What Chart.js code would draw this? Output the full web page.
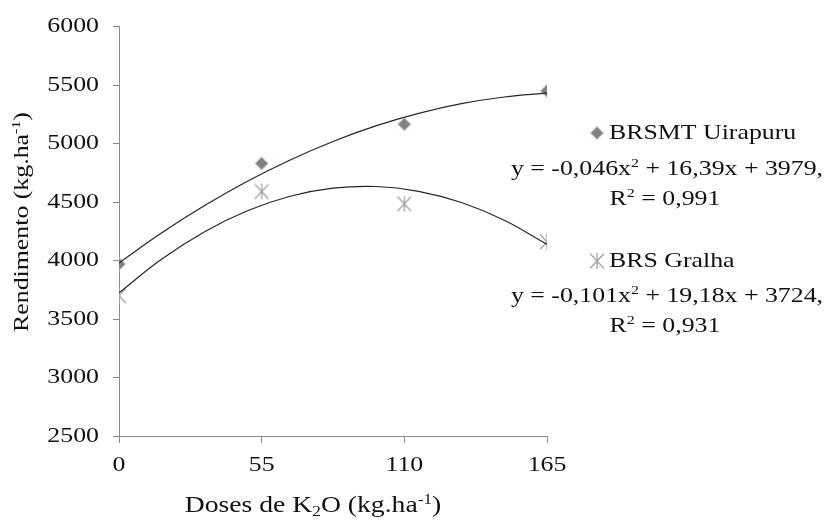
<!DOCTYPE html>
<html>
<head>
<meta charset="utf-8">
<script src="https://cdn.jsdelivr.net/npm/chart.js@4/dist/chart.umd.min.js"></script>
<style>
  html, body { margin: 0; padding: 0; background: #fff; }
  #wrap { width: 825px; height: 527px; }
</style>
</head>
<body>
<div id="wrap"><canvas id="c" width="825" height="527"></canvas></div>
<script>
// ---- data ----
const doses = [0, 55, 110, 165];
const uirapuru = [3970, 4830, 5165, 5450];
const gralha = [3700, 4590, 4485, 4160];
const trendX = [0, 16.5, 33, 49.5, 66, 82.5, 99, 115.5, 132, 148.5, 165];
const uirapuruTrend = [3979, 4237, 4470, 4678, 4860, 5018, 5151, 5258, 5341, 5398, 5431];
const gralhaTrend = [3724, 4013, 4247, 4426, 4550, 4619, 4633, 4592, 4496, 4345, 4139];
const yTicks = [2500, 3000, 3500, 4000, 4500, 5000, 5500, 6000];
const seriesNames = ['BRSMT Uirapuru', 'BRS Gralha'];
const equations = [
  [['y = -0,046x', 'n'], ['2', 'sup'], [' + 16,39x + 3979,', 'n']],
  [['y = -0,101x', 'n'], ['2', 'sup'], [' + 19,18x + 3724,', 'n']]
];
const r2Lines = [
  [['R', 'n'], ['2', 'sup'], [' = 0,991', 'n']],
  [['R', 'n'], ['2', 'sup'], [' = 0,931', 'n']]
];
const xTitle = [['Doses de K', 'n'], ['2', 'sub'], ['O (kg.ha', 'n'], ['-1', 'sup'], [')', 'n']];
const yTitle = [['Rendimento (kg.ha', 'n'], ['-1', 'sup'], [')', 'n']];

// ---- styling ----
const FONT_FAMILY = '"Liberation Serif", "Times New Roman", serif';
const FS = 21;
const SX = 1.23; // horizontal text stretch seen in the reference
const TEXT_COLOR = '#111';
const AXIS_COLOR = '#8a8a8a';
const DIAMOND_COLOR = '#808080';
const DIAMOND_GLOW = 'rgba(185,200,235,0.7)';
const STAR_COLOR = '#a3a3a3';
const LINE_COLOR = '#262626';

const canvas = document.getElementById('c');
const ctx = canvas.getContext('2d');
// horizontally stretched text, like the reference
const origFill = ctx.fillText.bind(ctx);
const origMeasure = ctx.measureText.bind(ctx);
ctx.fillText = function (text, x, y, maxWidth) {
  this.save();
  this.translate(x, y);
  this.scale(SX, 1);
  if (maxWidth !== undefined && maxWidth !== null) origFill(text, 0, 0, maxWidth / SX);
  else origFill(text, 0, 0);
  this.restore();
};
ctx.measureText = function (text) {
  const m = origMeasure(text);
  return {
    width: m.width * SX,
    actualBoundingBoxAscent: m.actualBoundingBoxAscent,
    actualBoundingBoxDescent: m.actualBoundingBoxDescent,
    actualBoundingBoxLeft: m.actualBoundingBoxLeft * SX,
    actualBoundingBoxRight: m.actualBoundingBoxRight * SX
  };
};

// star marker (X + vertical bar) like Excel
function makeStar(size, color) {
  const c = document.createElement('canvas');
  c.width = size + 4; c.height = size + 4;
  const g = c.getContext('2d');
  const h = size / 2, cx = c.width / 2, cy = c.height / 2;
  g.strokeStyle = color; g.lineWidth = 1.3; g.lineCap = 'butt';
  g.beginPath();
  g.moveTo(cx - h * 0.85, cy - h * 0.9); g.lineTo(cx + h * 0.85, cy + h * 0.9);
  g.moveTo(cx + h * 0.85, cy - h * 0.9); g.lineTo(cx - h * 0.85, cy + h * 0.9);
  g.moveTo(cx, cy - h); g.lineTo(cx, cy + h);
  g.stroke();
  return c;
}
const starImg = makeStar(16, STAR_COLOR);

function fontFor(kind, base) {
  const size = kind === 'n' ? base : Math.round(base * 0.6);
  return size + 'px ' + FONT_FAMILY;
}
function drawRich(c, segs, x, y, align, base) {
  base = base || FS;
  c.save();
  c.textAlign = 'left';
  c.textBaseline = 'middle';
  c.fillStyle = TEXT_COLOR;
  const widths = segs.map(s => { c.font = fontFor(s[1], base); return c.measureText(s[0]).width; });
  const total = widths.reduce((a, b) => a + b, 0);
  let pos = align === 'center' ? x - total / 2 : (align === 'right' ? x - total : x);
  segs.forEach((s, i) => {
    c.font = fontFor(s[1], base);
    const dy = s[1] === 'sup' ? -base * 0.24 : (s[1] === 'sub' ? base * 0.26 : 0);
    c.fillText(s[0], pos, y + dy);
    pos += widths[i];
  });
  c.restore();
}

const annotations = {
  id: 'annotations',
  afterDraw(chart) {
    const c = chart.ctx;
    // axis titles
    drawRich(c, xTitle, 313, 506, 'center', 22.5);
    c.save();
    c.translate(22, 222);
    c.rotate(-Math.PI / 2);
    drawRich(c, yTitle, 0, 0, 'center', FS);
    c.restore();
    // legend with trendline equations
    const legendY = [133, 261];
    const eqY = [169, 296];
    const r2Y = [199, 326];
    [0, 1].forEach(i => {
      const mx = 597, my = legendY[i];
      c.save();
      if (i === 0) {
        c.fillStyle = DIAMOND_COLOR;
        c.strokeStyle = DIAMOND_GLOW;
        c.lineWidth = 1.2;
        Chart.helpers.drawPoint(c, { pointStyle: 'rectRot', radius: 6.5, borderWidth: 1.2 }, mx, my);
      } else {
        c.drawImage(starImg, mx - starImg.width / 2, my - starImg.height / 2);
      }
      c.restore();
      drawRich(c, [[seriesNames[i], 'n']], 609, my, 'left', FS);
      drawRich(c, equations[i], 667, eqY[i], 'center', FS);
      drawRich(c, r2Lines[i], 665, r2Y[i], 'center', FS);
    });
  }
};

const chart = new Chart(ctx, {
  type: 'scatter',
  data: {
    datasets: [
      {
        label: seriesNames[0] + ' trend',
        data: trendX.map((v, i) => ({ x: v, y: uirapuruTrend[i] })),
        showLine: true, borderColor: LINE_COLOR, borderWidth: 1.2,
        pointRadius: 0, tension: 0.4, fill: false
      },
      {
        label: seriesNames[1] + ' trend',
        data: trendX.map((v, i) => ({ x: v, y: gralhaTrend[i] })),
        showLine: true, borderColor: LINE_COLOR, borderWidth: 1.2,
        pointRadius: 0, tension: 0.4, fill: false
      },
      {
        label: seriesNames[0],
        data: doses.map((v, i) => ({ x: v, y: uirapuru[i] })),
        pointStyle: 'rectRot', pointRadius: 6.5,
        backgroundColor: DIAMOND_COLOR, borderColor: DIAMOND_GLOW, borderWidth: 1.2
      },
      {
        label: seriesNames[1],
        data: doses.map((v, i) => ({ x: v, y: gralha[i] })),
        pointStyle: starImg, pointRadius: 8
      }
    ]
  },
  options: {
    responsive: false,
    animation: false,
    devicePixelRatio: 1,
    layout: { padding: { left: 0, right: 278, top: 23, bottom: 0 } },
    plugins: { legend: { display: false }, tooltip: { enabled: false } },
    scales: {
      x: {
        type: 'linear', min: 0, max: 165,
        afterBuildTicks: s => { s.ticks = doses.map(v => ({ value: v })); },
        afterFit: s => { s.height = 91; },
        grid: { drawOnChartArea: false, color: AXIS_COLOR, tickLength: 7 },
        border: { color: AXIS_COLOR, width: 1 },
        ticks: { color: TEXT_COLOR, font: { family: FONT_FAMILY, size: FS }, padding: 10, maxRotation: 0,
                 callback: v => String(v) }
      },
      y: {
        min: 2500, max: 6000,
        afterBuildTicks: s => { s.ticks = yTicks.map(v => ({ value: v })); },
        afterFit: s => { s.width = 119; },
        grid: { drawOnChartArea: false, color: AXIS_COLOR, tickLength: 6 },
        border: { color: AXIS_COLOR, width: 1 },
        ticks: { color: TEXT_COLOR, font: { family: FONT_FAMILY, size: FS }, padding: 14,
                 callback: v => String(v) }
      }
    }
  },
  plugins: [annotations]
});
</script>
</body>
</html>
